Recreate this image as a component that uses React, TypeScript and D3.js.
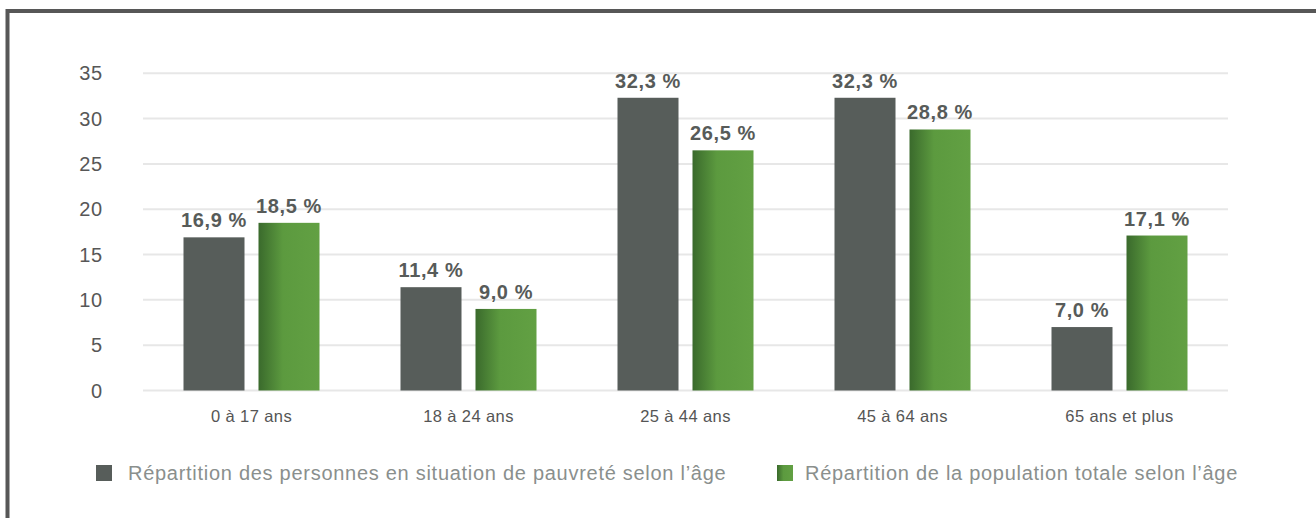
import React from "react";
import * as d3 from "d3";

const categories = ["0 à 17 ans", "18 à 24 ans", "25 à 44 ans", "45 à 64 ans", "65 ans et plus"];
const seriesNames = [
  "Répartition des personnes en situation de pauvreté selon l’âge",
  "Répartition de la population totale selon l’âge",
];
const pauvrete = [16.9, 11.4, 32.3, 32.3, 7.0];
const population = [18.5, 9.0, 26.5, 28.8, 17.1];
const yTicks = [0, 5, 10, 15, 20, 25, 30, 35];

const W = 1316;
const H = 518;
const FONT = "'Liberation Sans', Arial, Helvetica, sans-serif";

export default function App() {
  const x0 = d3.scaleBand<string>().domain(categories).range([143, 1228]).padding(0);
  const x1 = d3
    .scaleBand<string>()
    .domain(seriesNames)
    .range([40.5, 176.5])
    .paddingInner(0.1867)
    .paddingOuter(0);
  const y = d3.scaleLinear().domain([0, 35]).range([390.5, 73.3]);
  const fmt = (v: number) => v.toFixed(1).replace(".", ",") + " %";
  const series = [
    { name: seriesNames[0], values: pauvrete, fill: "#575d5a" },
    { name: seriesNames[1], values: population, fill: "url(#greenGrad)" },
  ];

  return (
    <svg
      width={W}
      height={H}
      style={{ position: "absolute", left: 0, top: 0, background: "#fff" }}
      fontFamily={FONT}
    >
      <defs>
        <linearGradient id="greenGrad" x1="0" x2="1" y1="0" y2="0">
          <stop offset="0" stopColor="#3a6a2c" />
          <stop offset="0.4" stopColor="#5c9a3f" />
          <stop offset="1" stopColor="#62a043" />
        </linearGradient>
      </defs>
      <rect x={0} y={0} width={W} height={H} fill="#fff" />
      <rect x={7.5} y={11} width={W + 20} height={H + 20} fill="none" stroke="#575757" strokeWidth={4} />

      {yTicks.map((t) => (
        <g key={t}>
          <line x1={143} x2={1228} y1={y(t)} y2={y(t)} stroke="#e7e7e7" strokeWidth={2} />
          <text
            x={103}
            y={y(t)}
            dy="0.35em"
            textAnchor="end"
            fontSize={20}
            letterSpacing={0.8}
            fill="#575757"
          >
            {t}
          </text>
        </g>
      ))}

      {categories.map((c, i) => (
        <g key={c} transform={`translate(${x0(c)},0)`}>
          {series.map((s) => {
            const v = s.values[i];
            const bx = x1(s.name)!;
            const bw = x1.bandwidth();
            return (
              <g key={s.name}>
                <rect x={bx} y={y(v)} width={bw} height={y(0) - y(v)} fill={s.fill} />
                <text
                  x={bx + bw / 2}
                  y={y(v) - 10}
                  textAnchor="middle"
                  fontSize={20}
                  letterSpacing={0.6}
                  fontWeight="bold"
                  fill="#575b59"
                >
                  {fmt(v)}
                </text>
              </g>
            );
          })}
          <text
            x={x0.bandwidth() / 2}
            y={416}
            dy="0.35em"
            textAnchor="middle"
            fontSize={16.5}
            letterSpacing={0.4}
            fill="#555"
          >
            {c}
          </text>
        </g>
      ))}

      <g>
        <rect x={96} y={465} width={16} height={16} fill="#575d5a" />
        <text x={128} y={473} dy="0.35em" fontSize={20} letterSpacing={0.72} fill="#8a8f8d">
          {seriesNames[0]}
        </text>
        <rect x={777} y={465} width={16} height={16} fill="url(#greenGrad)" />
        <text x={805} y={473} dy="0.35em" fontSize={20} letterSpacing={0.72} fill="#8a8f8d">
          {seriesNames[1]}
        </text>
      </g>
    </svg>
  );
}
